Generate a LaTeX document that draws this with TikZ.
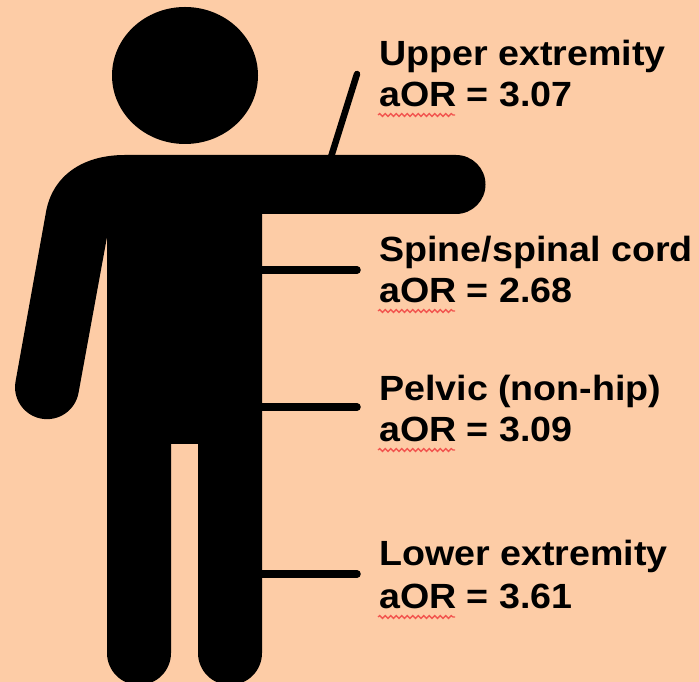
\documentclass[tikz,border=0pt]{standalone}
\usepackage{fontspec}
\setmainfont{Liberation Sans}
\usepackage{tikz}
\usetikzlibrary{calc}
\usetikzlibrary{decorations.pathmorphing}
\definecolor{fig-back}{HTML}{FDCCA6}
\definecolor{fig-squiggle}{HTML}{F2554F}
\tikzset{
    bodypart/.style={fill=black, draw=none},
    pointer/.style={black, line width=7.5pt, line cap=round},
    partlabel/.style={anchor=base west, inner sep=0pt, xscale=1.075, font=\fontsize{35}{35}\selectfont\bfseries},
    squiggle/.style={fig-squiggle, line width=1.3pt, decorate, decoration={snake, amplitude=1.4pt, segment length=5.5pt}}
}

\begin{document}
\begin{tikzpicture}[x=1pt, y=1pt]

    % Fundo da figura
    \fill[fig-back] (0,0) rectangle (699,682);
    \useasboundingbox (0,0) rectangle (699,682);

    % Cabeca
    \fill[bodypart] (185,606.5) ellipse (73 and 68.5);

    % Corpo, braco erguido e pernas
    \begin{scope}
        \clip (0,0) rectangle (699,682);
        \fill[bodypart] (456,527) arc (90:-90:29.5) -- (262,468) -- (262,29)
            arc (0:-180:32) -- (198,238) -- (171,238) -- (171,29)
            arc (0:-180:32) -- (107,445) -- (78.5,289)
            arc (-10.5:-190.5:32)
            -- (46,470) .. controls (52,504) and (80,527) .. (125,527) -- cycle;
    \end{scope}

    % Rotulos
    \node[partlabel] (upper) at (379,616) {Upper extremity};
    \node[partlabel] (upperor) at (379,575) {aOR = 3.07};
    \node[partlabel] (spine) at (379,420) {Spine/spinal cord};
    \node[partlabel] (spineor) at (379,379) {aOR = 2.68};
    \node[partlabel] (pelvic) at (379,281) {Pelvic (non-hip)};
    \node[partlabel] (pelvicor) at (379,240) {aOR = 3.09};
    \node[partlabel] (lower) at (379,116) {Lower extremity};
    \node[partlabel] (loweror) at (379,73) {aOR = 3.61};

    % Linhas de chamada
    \coordinate (armbase) at (331,525);
    \coordinate (armend) at (357,608);
    \coordinate (spinebase) at (262,412);
    \coordinate (spineend) at (357,412);
    \coordinate (pelvicbase) at (262,275);
    \coordinate (pelvicend) at (357,275);
    \coordinate (lowerbase) at (262,108);
    \coordinate (lowerend) at (357,108);
    \draw[pointer, line width=6.5pt] (armbase) -- (armend);
    \draw[pointer] (spinebase) -- (spineend);
    \draw[pointer] (pelvicbase) -- (pelvicend);
    \draw[pointer] (lowerbase) -- (lowerend);

    % Sublinhado ondulado do corretor
    \draw[squiggle] (378,567) -- (455,567);
    \draw[squiggle] (378,371) -- (455,371);
    \draw[squiggle] (378,232) -- (455,232);
    \draw[squiggle] (378,65) -- (455,65);

\end{tikzpicture}
\end{document}
